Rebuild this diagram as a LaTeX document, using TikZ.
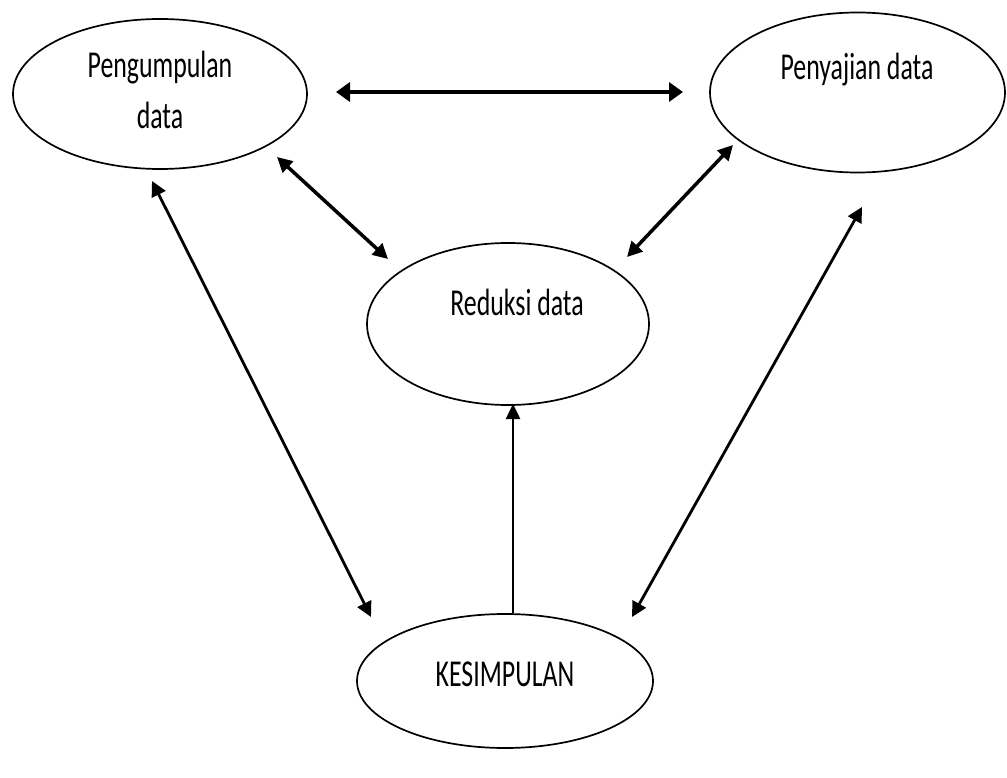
\documentclass[tikz,border=0pt]{standalone}
\usepackage{fontspec}
\setmainfont{Carlito}
\usetikzlibrary{shapes.geometric,arrows.meta}
\tikzset{
  oval/.style={draw, line width=1.7pt, shape=ellipse, inner sep=0pt},
  lbl/.style={anchor=base, inner sep=0pt, font=\fontsize{38}{51}\selectfont},
  dbl/.style={{Triangle[length=15pt,width=15pt]}-{Triangle[length=15pt,width=15pt]}},
  sgl/.style={-{Triangle[length=15pt,width=14pt]}},
}
\newcommand{\sq}[1]{\scalebox{0.68}[1]{#1}}
\begin{document}
\begin{tikzpicture}[x=1pt,y=-1pt]
\useasboundingbox (0,0) rectangle (1007,778);
% ellipses
\node[oval, minimum width=294pt, minimum height=150pt] (peng) at (160,94) {};
\node[oval, minimum width=295pt, minimum height=160pt] (peny) at (857.5,92.5) {};
\node[oval, minimum width=282pt, minimum height=162pt] (red) at (508,324) {};
\node[oval, minimum width=296pt, minimum height=134pt] (kes) at (505,681) {};
% texts
\node[lbl] (tpeng1) at (160,78) {\sq{Pengumpulan}};
\node[lbl] (tpeng2) at (160,129) {\sq{data}};
\node[lbl] (tpeny) at (857,80) {\sq{Penyajian data}};
\node[lbl] (tred) at (517,316) {\sq{Reduksi data}};
\node[lbl] (tkes) at (505,686) {\sq{KESIMPULAN}};
% connector end points
\coordinate (h1) at (336,92);
\coordinate (h2) at (683,92);
\coordinate (a1) at (277,157);
\coordinate (a2) at (388,259);
\coordinate (b1) at (733,145);
\coordinate (b2) at (627,257);
\coordinate (c1) at (152,181);
\coordinate (c2) at (371,617);
\coordinate (d1) at (862,207);
\coordinate (d2) at (632,617);
\coordinate (e1) at (513,613);
\coordinate (e2) at (513,404);
% connectors
\draw[line width=4pt, {Triangle[length=14pt,width=19pt]}-{Triangle[length=14pt,width=19pt]}] (h1) -- (h2);
\draw[dbl, line width=3.5pt] (a1) -- (a2);
\draw[dbl, line width=3.5pt] (b1) -- (b2);
\draw[dbl, line width=2.8pt] (c1) -- (c2);
\draw[dbl, line width=2.8pt] (d1) -- (d2);
\draw[sgl, line width=2.5pt] (e1) -- (e2);
\end{tikzpicture}
\end{document}
